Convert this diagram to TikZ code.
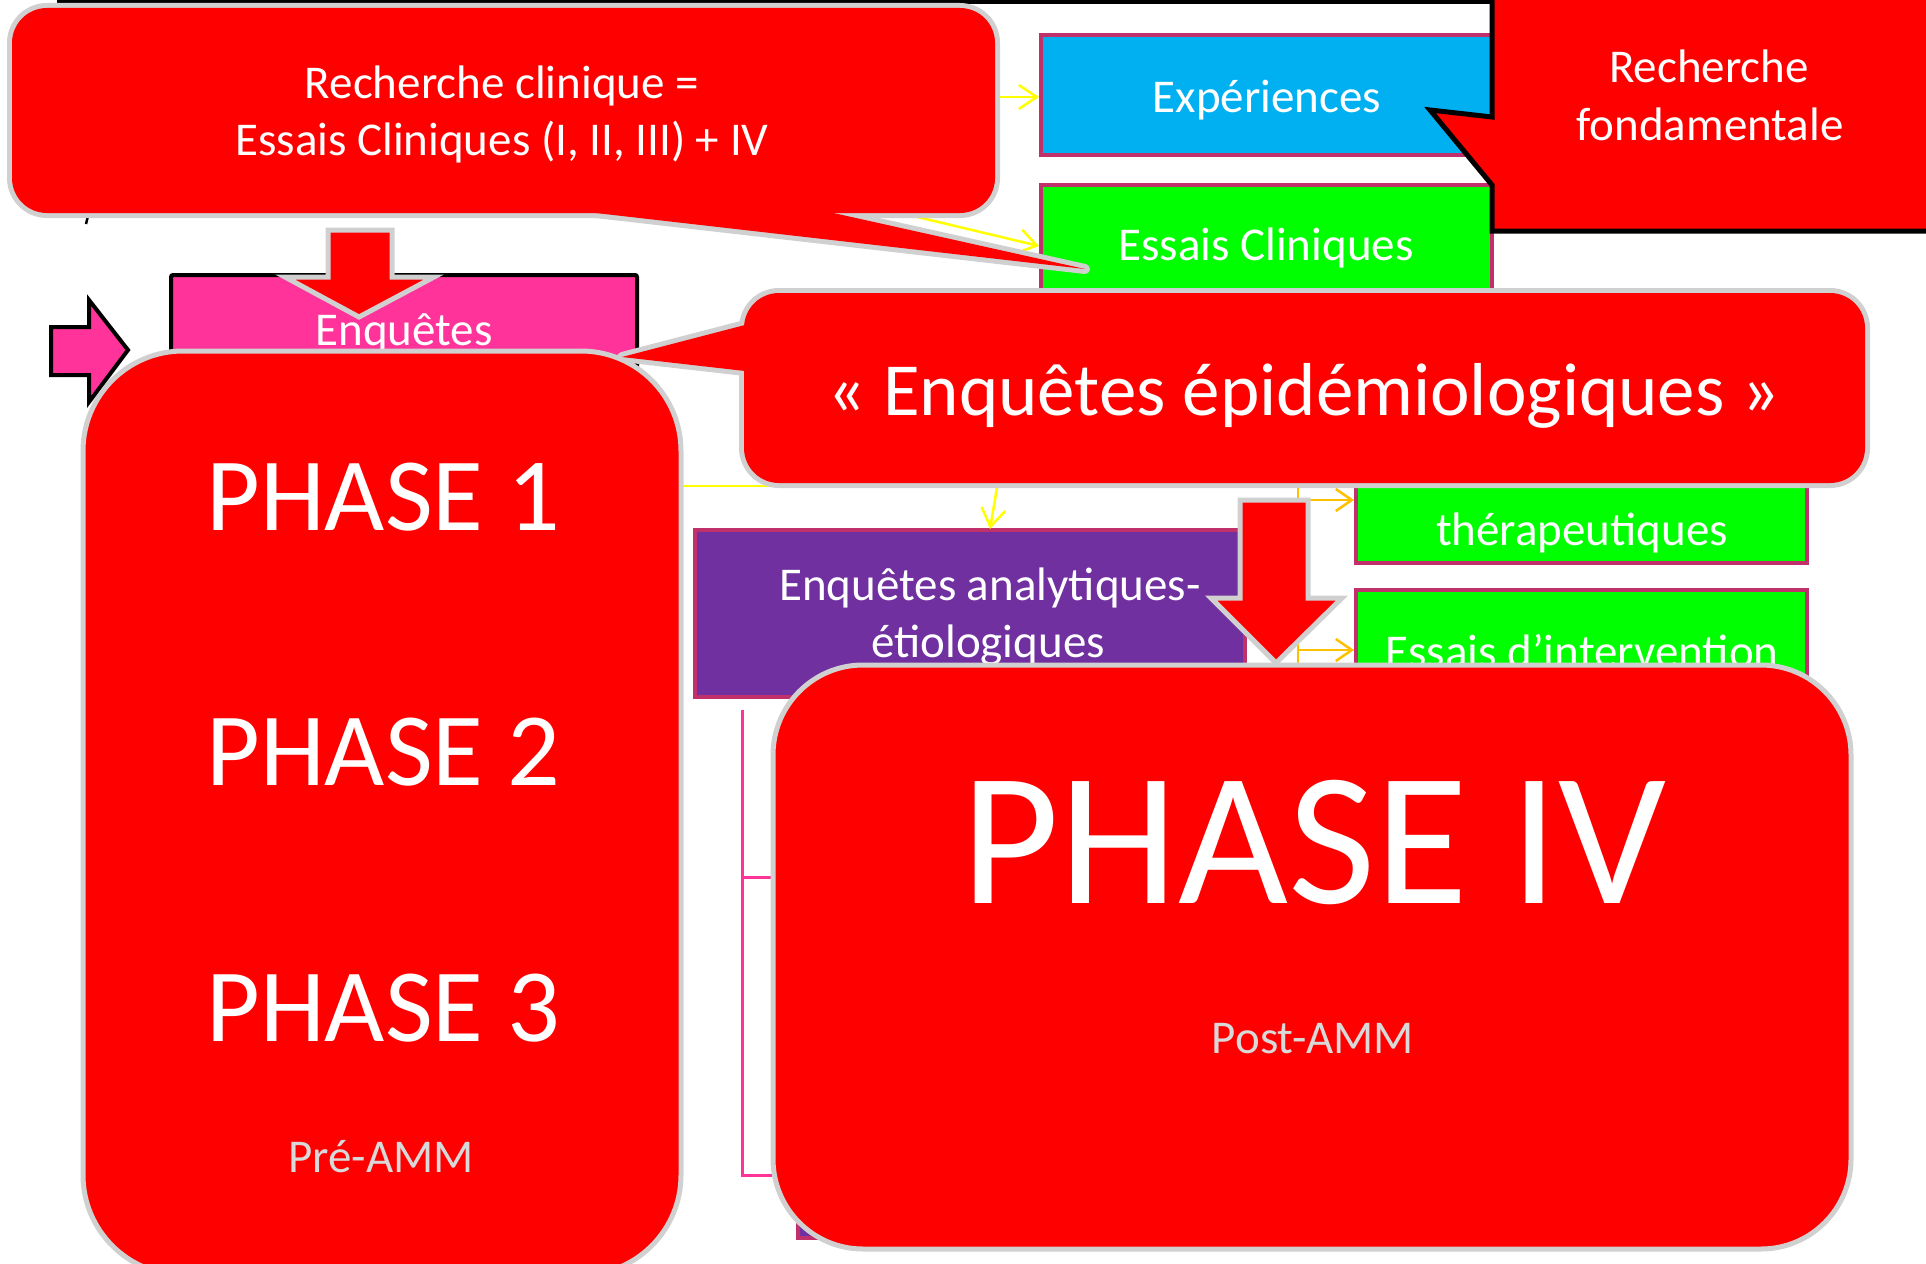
\documentclass[tikz,border=0pt]{standalone}
\usepackage{fontspec}
\setmainfont{Carlito}
\usetikzlibrary{arrows.meta}
\definecolor{cred}{HTML}{FF0000}
\definecolor{cgray}{HTML}{D0D0D0}
\definecolor{ccyan}{HTML}{00B0F0}
\definecolor{cgreen}{HTML}{00FF00}
\definecolor{cpink}{HTML}{FF3399}
\definecolor{cpurple}{HTML}{7030A0}
\definecolor{cmag}{HTML}{C0306A}
\definecolor{cyel}{HTML}{FFFF00}
\definecolor{corange}{HTML}{FFC000}
\definecolor{ctgray}{HTML}{D9D9D9}
\begin{document}
\begin{tikzpicture}[x=1pt,y=-1pt,
  txt/.style={anchor=base, inner sep=0pt, text=white, font=\fontsize{47}{56}\selectfont},
  graytxt/.style={txt, text=ctgray},
  phasetxt/.style={txt, font=\fontsize{104}{120}\selectfont},
  boxm/.style={draw=cmag, line width=4pt, inner sep=0pt},
  cobord/.style={draw=cgray, line width=10pt, line join=round},
  cofill/.style={fill=cred},
  bigbox/.style={fill=cred, draw=cgray, line width=5pt, inner sep=0pt},
  blockarrow/.style={fill=cred, draw=cgray, line width=5pt, line join=miter},
  yconn/.style={draw=cyel, line width=2.5pt, -{Straight Barb[length=18pt,width=24pt,line width=2.5pt]}},
  yline/.style={draw=cyel, line width=2.5pt},
  oconn/.style={draw=corange, line width=2.5pt, -{Straight Barb[length=16pt,width=22pt,line width=2.5pt]}},
  oline/.style={draw=corange, line width=2.5pt},
  pline/.style={draw=cpink, line width=3pt},
]
\useasboundingbox (0,0) rectangle (1926,1263);
\clip (0,0) rectangle (1926,1263);
\fill[white] (0,0) rectangle (1926,1263);

% top black line and small mark
\draw[line width=5pt] (57,1.5) -- (1495,1.5);
\draw[line width=2.5pt] (88,216) -- (86,224);

% hidden purple box at the bottom
\node[boxm, fill=cpurple, minimum width=502pt, minimum height=238pt] (hp) at (1049,1119) {};

% boxes
\node[boxm, fill=ccyan, minimum width=451pt, minimum height=120pt] (exp) at (1266.5,95) {};
\node[txt] (exptxt) at (1267,112) {Expériences};
\node[boxm, fill=cgreen, minimum width=451pt, minimum height=122pt] (ecl) at (1266.5,246) {};
\node[txt] (ecltxt) at (1266,260) {Essais Cliniques};
\node[draw=black, line width=4pt, rounded corners=2pt, fill=cpink, inner sep=0pt, minimum width=466pt, minimum height=145pt] (enq) at (404,347.5) {};
\node[txt] (enqtxt) at (404,345) {Enquêtes};
\node[boxm, fill=cpurple, minimum width=550pt, minimum height=167pt] (ana) at (970,613.5) {};
\node[txt] (anatxt1) at (990,600) {Enquêtes analytiques-};
\node[txt] (anatxt2) at (988,657) {étiologiques};
\node[boxm, fill=cgreen, minimum width=451pt, minimum height=133pt] (the) at (1581.5,496.5) {};
\node[txt] (thetxt) at (1582,545) {thérapeutiques};
\node[boxm, fill=cgreen, minimum width=451pt, minimum height=130pt] (int) at (1581.5,655) {};
\node[txt] (inttxt) at (1582,667) {Essais d’intervention};

% connectors
\coordinate (y1s) at (950,97);
\coordinate (y2s) at (800,189);
\coordinate (y3s) at (600,486);
\coordinate (y3e) at (800,486);
\coordinate (y4s) at (1000,470);
\coordinate (y4e) at (990,529);
\draw[yconn] (y1s) -- (y1s -| exp.west);
\draw[yconn] (y2s) -- (ecl.west);
\draw[yline] (y3s) -- (y3e);
\draw[yconn] (y4s) -- (y4e);
\coordinate (o0) at (1298,470);
\coordinate (o1) at (1298,500);
\coordinate (o2) at (1298,650);
\coordinate (o3) at (1298,664);
\draw[oline] (o0) -- (o3);
\draw[oconn] (o1) -- (o1 -| the.west);
\draw[oconn] (o2) -- (o2 -| int.west);
\coordinate (b0) at (742,710);
\coordinate (b1) at (742,1175);
\coordinate (b2) at (742,877);
\coordinate (b2e) at (790,877);
\coordinate (b1e) at (790,1175);
\draw[pline] (b2e) -- (b2) (b0) -- (b1) -- (b1e);

% callout 1 : Recherche clinique
\path[cobord] [rounded corners=35pt] (12,8) rectangle (995,213);
\path[cobord] (587,212) -- (1085,269) -- (829,212) -- cycle;
\path[cofill] [rounded corners=35pt] (12,8) rectangle (995,213);
\path[cofill] (587,212) -- (1085,269) -- (829,212) -- cycle;
\node[txt] (rc1) at (502,98) {Recherche clinique =};
\node[txt] (rc2) at (502,155) {Essais Cliniques (I, II, III) + IV};

% callout Recherche fondamentale
\draw[fill=cred, draw=black, line width=5pt, line join=miter]
  (1492,-10) -- (1492,117) -- (1430,110) -- (1492,185) -- (1492,231) -- (1940,231) -- (1940,-10) -- cycle;
\node[txt] (rf1) at (1709,82) {Recherche};
\node[txt] (rf2) at (1710,140) {fondamentale};

% red block arrow 1
\draw[blockarrow] (328,230) -- (392,230) -- (392,277) -- (434,277) -- (359,317) -- (285,277) -- (328,277) -- cycle;

% pink right arrow
\draw[fill=cpink, draw=black, line width=4pt, line join=miter]
  (51,327) -- (89,327) -- (89,300) -- (128,350) -- (89,402) -- (89,375) -- (51,375) -- cycle;

% PHASE 1-3 box
\node[bigbox, rounded corners=100pt, minimum width=598pt, minimum height=924pt] (p13) at (382,813) {};
\node[phasetxt] (ph1) at (383,530) {PHASE 1};
\node[phasetxt] (ph2) at (383,785) {PHASE 2};
\node[phasetxt] (ph3) at (383,1041) {PHASE 3};
\node[graytxt] (pre) at (381,1172) {Pré-AMM};

% callout 2 : Enquetes epidemiologiques
\path[cobord] [rounded corners=35pt] (744,293) rectangle (1865,483);
\path[cobord] (745,325) -- (622,357) -- (745,371) -- cycle;
\path[cofill] [rounded corners=35pt] (744,293) rectangle (1865,483);
\path[cofill] (745,325) -- (622,357) -- (745,371) -- cycle;
\node[txt, font=\fontsize{75}{90}\selectfont] (epi) at (1304,415) {«~Enquêtes épidémiologiques~»};

% red block arrow 2
\draw[blockarrow] (1240,500) -- (1308,500) -- (1308,598) -- (1342,598) -- (1276,663) -- (1211,598) -- (1240,598) -- cycle;

% PHASE IV box
\node[bigbox, rounded corners=90pt, minimum width=1078pt, minimum height=584pt] (p4) at (1312,957) {};
\node[txt, font=\fontsize{190}{220}\selectfont] (ph4) at (1314,903) {PHASE IV};
\node[graytxt] (post) at (1313,1053) {Post-AMM};
\end{tikzpicture}
\end{document}
